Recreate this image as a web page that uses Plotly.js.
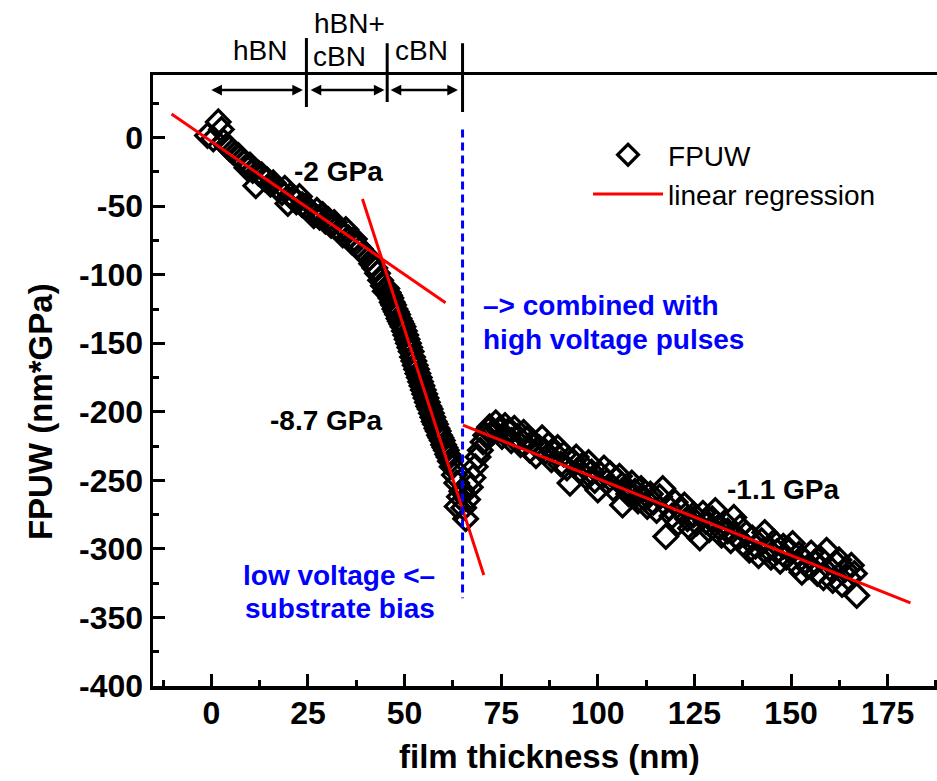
<!DOCTYPE html>
<html><head><meta charset="utf-8">
<script src="https://cdn.plot.ly/plotly-3.0.1.min.js"></script>
<style>html,body{margin:0;padding:0;overflow:hidden;background:#fff}#chart{width:946px;height:781px}</style>
</head><body><div id="chart"></div>
<script>
// ---- data ----
// hBN / early growth region (slope about -2 GPa)
const hbnPoints = [[-1.0,1.5],[0.5,-1],[1.8,11.5],[2.6,6],[3.2,-3],[4.0,-6],[4.7,-8],[5.5,-10],[6.2,-12],[7.0,-13],
[7.8,-16],[8.5,-18],[9.2,-22],[10.0,-20],[10.7,-24],[11.5,-35],[12.2,-26],[13.0,-27],[13.8,-30],[14.5,-31],
[15.3,-34],[16.0,-33],[16.8,-36],[17.5,-38],[18.3,-40],[19.0,-37],[19.8,-48],[20.5,-42],[21.3,-44],[22.0,-47],
[22.8,-43],[23.5,-49],[24.3,-50],[25.0,-52],[25.8,-54],[26.5,-57],[27.3,-53],[28.0,-58],[28.8,-56],[29.5,-61],
[30.3,-60],[31.0,-64],[31.8,-62],[32.5,-66],[33.3,-68],[34.0,-71],[34.8,-67],[35.5,-73],[36.3,-76],[37.0,-74],
[37.8,-79],[38.5,-81],[39.3,-84],[40.0,-86],[40.8,-88],[41.5,-92],[42.3,-95],[43.0,-99],[43.8,-104],[44.5,-108],[45.0,-112]];
// cBN nucleation region (slope about -8.7 GPa)
const cbnPoints = [[45.4,-110],[45.75,-113],[46.1,-115],[46.45,-117],[46.8,-120],[47.15,-122],[47.5,-125],[47.85,-127],[48.2,-129],[48.55,-132],
[48.9,-134],[49.25,-136],[49.6,-138],[49.95,-141],[50.3,-144],[50.65,-147],[51.0,-150],[51.35,-153],[51.7,-156],[52.05,-160],
[52.4,-163],[52.75,-166],[53.1,-169],[53.45,-172],[53.8,-175],[54.15,-178],[54.5,-181],[54.85,-184],[55.2,-187],[55.55,-190],
[55.9,-193],[56.25,-196],[56.6,-198],[56.95,-201],[57.3,-204],[57.65,-207],[58.0,-209],[58.35,-212],[58.7,-214],[59.05,-217],
[59.4,-219],[59.75,-221],[60.1,-224],[60.45,-226],[60.8,-228],[61.15,-231],[61.5,-233],[61.85,-236]];
// transition when pulses were added
const dipPoints = [[62.3,-240],[62.9,-246],[63.5,-252],[63.6,-269],[64.2,-262],[64.8,-258],[65.3,-270],[65.8,-278],[66.3,-264],
[67.0,-255],[67.7,-248],[68.3,-240],[69.0,-233],[69.6,-228],[70.3,-222],[71.0,-217],[71.6,-213]];
// growth with high voltage pulses (slope about -1.1 GPa)
const pulsePoints = [[72.0,-211],[72.8,-215],[73.6,-208],[74.4,-213],[75.2,-218],[76.0,-210],[76.8,-214],[77.6,-221],[78.4,-212],[79.2,-218],
[80.0,-224],[80.8,-215],[81.6,-220],[82.4,-228],[83.2,-222],[84.0,-232],[84.8,-226],[85.6,-219],[86.4,-229],[87.2,-224],
[88.0,-235],[88.8,-230],[89.6,-226],[90.4,-238],[91.2,-231],[92.0,-241],[92.8,-252],[93.6,-236],[94.4,-233],[95.2,-243],
[96.0,-239],[96.8,-247],[97.6,-237],[98.4,-244],[99.2,-250],[100.0,-257],[100.8,-246],[101.6,-241],[102.4,-251],[103.2,-245],
[104.0,-256],[104.8,-249],[105.6,-247],[106.4,-268],[107.2,-255],[108.0,-260],[108.8,-252],[109.6,-258],[110.4,-265],[111.2,-256],
[112.0,-263],[112.8,-269],[113.6,-260],[114.4,-266],[115.2,-272],[116.0,-262],[116.8,-256],[117.6,-291],[118.4,-270],[119.2,-276],
[120.0,-266],[120.8,-281],[121.6,-272],[122.4,-268],[123.2,-278],[124.0,-285],[124.8,-275],[125.6,-281],[126.4,-292],[127.2,-274],
[128.0,-280],[128.8,-286],[129.6,-278],[130.4,-272],[131.2,-284],[132.0,-290],[132.8,-281],[133.6,-287],[134.4,-294],[135.2,-277],
[136.0,-291],[136.8,-284],[137.6,-296],[138.4,-289],[139.2,-301],[140.0,-292],[140.8,-298],[141.6,-305],[142.4,-294],[143.2,-288],
[144.0,-300],[144.8,-306],[145.6,-295],[146.4,-302],[147.2,-309],[148.0,-298],[148.8,-306],[149.6,-301],[150.4,-296],[151.2,-311],
[152.0,-304],[152.8,-317],[153.6,-309],[154.4,-313],[155.2,-303],[156.0,-310],[156.8,-318],[157.6,-307],[158.4,-321],[159.2,-301],
[160.0,-314],[160.8,-323],[161.6,-310],[162.4,-308],[163.2,-326],[164.0,-315],[164.8,-321],[165.6,-312],[166.4,-318],[167.0,-334]];

// linear regression segments (end points of each fitted line)
const regX = [-10.3, 60.6, null, 39.1, 70.5, null, 65.1, 180.9];
const regY = [17.2, -120.4, null, -44.7, -319.0, null, -209.7, -339.4];

// phase boundaries (film thickness, nm) and their labels
const phaseBounds = [24.6, 45.5, 65.0];
const arrowSpans = [[-0.4, 23.7], [25.3, 44.8], [46.0, 63.8]];
const slopeLabels = ['-2 GPa', '-8.7 GPa', '-1.1 GPa'];

const xTickVals = [0, 25, 50, 75, 100, 125, 150, 175];
const xTickText = ['0', '25', '50', '75', '100', '125', '150', '175'];
const yTickVals = [-400, -350, -300, -250, -200, -150, -100, -50, 0];
const yTickText = ['-400', '-350', '-300', '-250', '-200', '-150', '-100', '-50', '0'];

// ---- build ----
const allPts = hbnPoints.concat(cbnPoints, dipPoints, pulsePoints);
const fpuwX = allPts.map(p => p[0]);
const fpuwY = allPts.map(p => p[1]);

const FONT = 'Liberation Sans, Arial, Helvetica, sans-serif';
const BLUE = '#0000ff';

const traces = [
  {type: 'scatter', mode: 'markers', name: 'FPUW', x: fpuwX, y: fpuwY,
   marker: {symbol: 'diamond-open', size: 18, color: '#000', line: {width: 3.3, color: '#000'}}},
  {type: 'scatter', mode: 'lines', name: 'linear regression', x: regX, y: regY,
   connectgaps: false, line: {color: '#ff0000', width: 3}}
];

const axisCommon = {
  showgrid: false, zeroline: false, showline: true, linecolor: '#000', linewidth: 3.5,
  ticks: 'inside', ticklen: 12, tickwidth: 3, tickcolor: '#000', tickmode: 'array',
  tickfont: {family: FONT, size: 32, weight: 'bold', color: '#000'}
};

const shapes = [];
const vTops = [1.0605, 1.052, 1.052];
const vBots = [0.9476, 0.9558, 0.9394];
phaseBounds.forEach((b, i) => {
  shapes.push({type: 'line', xref: 'x', yref: 'paper', x0: b, x1: b, y0: vBots[i], y1: vTops[i],
    line: {color: '#000', width: 3}});
});
shapes.push({type: 'line', xref: 'x', yref: 'y', x0: phaseBounds[2], x1: phaseBounds[2], y0: 6, y1: -336,
  line: {color: BLUE, width: 3, dash: '8px,5px'}});

const annotations = [];
arrowSpans.forEach(s => {
  annotations.push({xref: 'x', yref: 'y', axref: 'x', ayref: 'y', x: s[1], y: 34.7, ax: s[0], ay: 34.7,
    text: '', showarrow: true, arrowside: 'end+start', arrowhead: 2, startarrowhead: 2,
    arrowsize: 0.85, startarrowsize: 0.85, arrowwidth: 2.5, arrowcolor: '#000', standoff: 0, startstandoff: 0});
});
const hdrFont = {family: FONT, size: 28, color: '#000'};
const boldFont = {family: FONT, size: 28, color: '#000', weight: 'bold'};
const blueFont = {family: FONT, size: 28, color: BLUE, weight: 'bold'};
function txt(text, x, y, font, xanchor, yref) {
  annotations.push({text: text, x: x, y: y, xref: 'x', yref: yref || 'y', showarrow: false,
    xanchor: xanchor || 'center', yanchor: 'middle', font: font});
}
txt('hBN', 12.5, 1.0401, hdrFont, 'center', 'paper');
txt('hBN+', 35.8, 1.0835, hdrFont, 'center', 'paper');
txt('cBN', 33.2, 1.0303, hdrFont, 'center', 'paper');
txt('cBN', 54.4, 1.0393, hdrFont, 'center', 'paper');
txt(slopeLabels[0], 32.9, -24.4, boldFont);
txt(slopeLabels[1], 29.6, -206.6, boldFont);
txt(slopeLabels[2], 147.8, -256.3, boldFont);
txt('\u2013> combined with', 69.7, -122.1, blueFont, 'left');
txt('high voltage pulses', 69.7, -147.6, blueFont, 'left');
txt('low voltage <\u2013', 58.3, -319.1, blueFont, 'right');
txt('substrate bias', 58.3, -343.1, blueFont, 'right');
// axis titles
annotations.push({text: 'FPUW (nm*GPa)', xref: 'paper', yref: 'paper', x: -0.1425, y: 0.45,
  textangle: -90, showarrow: false, xanchor: 'center', yanchor: 'middle',
  font: {family: FONT, size: 33, weight: 'bold', color: '#000'}});
annotations.push({text: 'film thickness (nm)', xref: 'paper', yref: 'paper', x: 0.4994, y: -0.1162,
  showarrow: false, xanchor: 'center', yanchor: 'middle',
  font: {family: FONT, size: 33, weight: 'bold', color: '#000'}});

const layout = {
  width: 946, height: 781,
  margin: {l: 153, r: 0, t: 75, b: 95, pad: 0},
  paper_bgcolor: '#fff', plot_bgcolor: '#fff',
  font: {family: FONT, color: '#000'},
  showlegend: true,
  legend: {x: 0.5486, y: 0.910, xanchor: 'left', yanchor: 'top', bgcolor: 'rgba(0,0,0,0)',
    borderwidth: 0, itemwidth: 70, font: {family: FONT, size: 28, color: '#000'}},
  xaxis: Object.assign({}, axisCommon, {range: [-15.1, 190.1], tickvals: xTickVals, ticktext: xTickText,
    mirror: true, ticklabelstandoff: -4,
    minor: {tick0: 0, dtick: 12.5, ticks: 'inside', ticklen: 6, tickwidth: 3, tickcolor: '#000', showgrid: false}}),
  xaxis2: {overlaying: 'x', side: 'top', anchor: 'y', range: [-15.1, 190.1], tick0: 0, dtick: 12.5,
    ticks: 'inside', ticklen: 4, tickwidth: 3, tickcolor: '#000', showticklabels: false,
    showgrid: false, zeroline: false, showline: false},
  yaxis: Object.assign({}, axisCommon, {range: [-400, 45.7], tickvals: yTickVals, ticktext: yTickText,
    minor: {tick0: 0, dtick: 25, ticks: 'inside', ticklen: 6, tickwidth: 3, tickcolor: '#000', showgrid: false}}),
  shapes: shapes,
  annotations: annotations
};

Plotly.newPlot('chart', traces, layout, {displayModeBar: false, staticPlot: true});
</script>
</body></html>
